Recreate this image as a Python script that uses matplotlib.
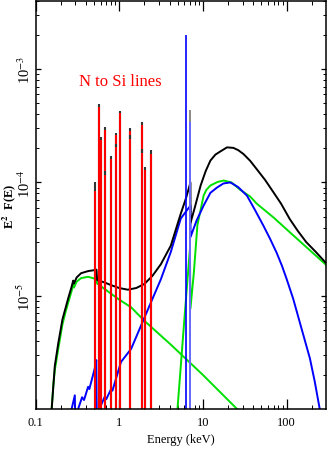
import numpy as np
import matplotlib
matplotlib.use('Agg')
from matplotlib import pyplot as plt
from matplotlib.ticker import FixedLocator, NullFormatter

plt.rcParams['font.family'] = ['Liberation Serif', 'DejaVu Serif']
plt.rcParams['mathtext.fontset'] = 'stix'

# total model (black)
black_e = [0.156, 0.17, 0.187, 0.21, 0.246, 0.27, 0.282, 0.288, 0.31, 0.35, 0.425, 0.50,
           0.535, 0.545, 0.56, 0.65, 0.80, 1.0, 1.27, 1.6, 2.0, 2.5, 3.15, 4.14, 5.44, 6.3,
           7.1, 7.12, 8.0, 9.4, 10.8, 12.3, 14.1, 16.2, 19.4, 23.1, 26.4, 30.6, 36.8, 44,
           55.5, 69.6, 85.9, 109, 136, 172, 223, 295]
black_f = [1e-6, 2.4e-6, 3.8e-6, 6.2e-6, 9.5e-6, 1.2e-5, 1.36e-5, 1.28e-5, 1.45e-5, 1.58e-5,
           1.65e-5, 1.68e-5, 1.7e-5, 1.38e-5, 1.36e-5, 1.32e-5, 1.24e-5, 1.17e-5, 1.13e-5,
           1.17e-5, 1.27e-5, 1.5e-5, 1.9e-5, 2.77e-5, 5.3e-5, 7.3e-5, 1.0e-4, 4.4e-5, 6.0e-5,
           9.4e-5, 1.26e-4, 1.56e-4, 1.76e-4, 1.88e-4, 2.04e-4, 2.02e-4, 1.93e-4, 1.78e-4,
           1.55e-4, 1.31e-4, 1.05e-4, 8.2e-5, 6.5e-5, 4.76e-5, 3.74e-5, 2.97e-5, 2.44e-5,
           1.95e-5]

# soft thermal component (green)
soft_e = [0.156, 0.163, 0.17, 0.187, 0.21, 0.23, 0.246, 0.27, 0.282, 0.288, 0.31, 0.35,
          0.425, 0.5, 0.535, 0.545, 0.7, 0.965, 1.39, 2.0, 4.14, 10.0, 25.6]
soft_f = [1e-6, 1.6e-6, 2.2e-6, 3.4e-6, 5.6e-6, 7.3e-6, 8.7e-6, 1.1e-5, 1.25e-5, 1.18e-5,
          1.33e-5, 1.43e-5, 1.47e-5, 1.42e-5, 1.38e-5, 1.28e-5, 1.12e-5, 9.4e-6, 7.9e-6,
          6.0e-6, 3.7e-6, 2.0e-6, 1.0e-6]

# hard component (green)
hard_e = [4.97, 6.0, 7.0, 7.1, 7.8, 8.6, 10.2, 11.0, 12.3, 15, 17.7, 22, 28, 36.8, 44, 70,
          109, 295]
hard_f = [1e-6, 6.1e-6, 2.6e-5, 7.7e-6, 1.6e-5, 4.2e-5, 7.65e-5, 8.6e-5, 9.4e-5, 1.01e-4,
          1.04e-4, 1.0e-4, 8.6e-5, 7.5e-5, 6.5e-5, 4.9e-5, 3.64e-5, 1.88e-5]

# absorbed power law / reflection (blue)
blue_e = [0.27, 0.295, 0.298, 0.323, 0.36, 0.38, 0.425, 0.44, 0.51, 0.533, 0.54, 0.58, 0.67,
          0.70, 0.80, 0.83, 1.05, 1.39, 2.0, 2.5, 3.15, 4.14, 5.44, 7.1, 7.12, 8.4, 10.2,
          12.3, 14.7, 17.6, 21.3, 26.4, 33.6, 42, 52.7, 63.5, 76, 88, 100, 120, 148, 190,
          217, 249]
blue_f = [1e-6, 1.32e-6, 8e-7, 1e-6, 1.27e-6, 1.2e-6, 1.57e-6, 1.5e-6, 2.28e-6, 2.7e-6, 8e-7,
          1e-6, 1.28e-6, 1.22e-6, 1.5e-6, 1.45e-6, 2.6e-6, 3.4e-6, 6.4e-6, 9.4e-6, 1.4e-5,
          2.44e-5, 4.8e-5, 6.25e-5, 3.3e-5, 4.6e-5, 6.25e-5, 8.1e-5, 9.0e-5, 9.8e-5, 1.0e-4,
          9.1e-5, 7.65e-5, 5.7e-5, 4.17e-5, 3.18e-5, 2.4e-5, 1.84e-5, 1.41e-5, 9.4e-6,
          5.4e-6, 2.8e-6, 1.75e-6, 1e-6]

# N to Si emission lines
line_e = [0.509, 0.574, 0.60, 0.67, 0.789, 0.921, 1.036, 1.36, 1.87, 2.03, 2.42]
line_top = [1.0e-4, 4.9e-4, 2.5e-4, 3.07e-4, 1.72e-4, 2.76e-4, 4.3e-4, 3.0e-4, 3.4e-4, 1.36e-4, 1.93e-4]
line_red = [8.4e-5, 4.6e-4, 2.35e-4, 2.9e-4, 1.6e-4, 2.6e-4, 4.1e-4, 2.85e-4, 3.2e-4, 1.28e-4, 1.8e-4]
sec_e = [0.67, 0.921, 1.36, 1.87]
sec_f = [1.26e-4, 2.2e-4, 2.6e-4, 1.97e-4]

# Fe lines
fe_e = [6.37, 7.1]
fe_top = [2.0e-3, 3.4e-4]
fe_tip = 4.4e-4

fig = plt.figure(figsize=(3.27, 4.6), dpi=100)
ax = fig.add_axes([0.1086, 0.1087, 0.888, 0.887])
ax.set_xscale('log')
ax.set_yscale('log')
ax.set_xlim(0.1, 295)
ax.set_ylim(1e-6, 4e-3)

ax.plot(soft_e, soft_f, color='#00e000', lw=1.4)
ax.plot(hard_e, hard_f, color='#00e000', lw=1.4)
ax.plot(blue_e, blue_f, color='#0000ff', lw=1.4)
ax.plot(black_e, black_f, color='black', lw=1.4)

ax.vlines(fe_e[1], 1e-6, fe_tip, color='#888888', lw=1.4)
ax.vlines(fe_e[1], 1e-6, fe_top[1], color='#6a6aff', lw=1.4)
ax.vlines(fe_e[0], 1e-6, fe_top[0], color='#0000ff', lw=1.2)

ax.vlines(line_e, 1e-6, line_top, color='#333333', lw=1.5)
ax.vlines(line_e, 1e-6, line_red, color='#ff0000', lw=1.5)
ax.vlines(sec_e, np.array(sec_f) * 0.93, sec_f, color='#333333', lw=1.5)

ax.text(1.02, 7.9e-4, 'N to Si lines', color='#ff0000', fontsize=12,
        ha='center', va='center')

ax.xaxis.set_major_locator(FixedLocator([0.1, 1, 10, 100]))
ax.set_xticklabels(['0.1', '1', '10', '100'])
ax.yaxis.set_major_locator(FixedLocator([1e-5, 1e-4, 1e-3]))
ax.set_yticklabels(['10$^{-5}$', '10$^{-4}$', '10$^{-3}$'])
ax.yaxis.set_minor_formatter(NullFormatter())
ax.xaxis.set_minor_formatter(NullFormatter())

ax.tick_params(which='both', direction='in', top=True, right=True, colors='black')
ax.tick_params(axis='x', which='major', length=7, width=0.9, labelsize=9, pad=5)
ax.tick_params(axis='x', which='minor', length=3.2, width=0.7)
ax.tick_params(axis='y', which='major', length=3.8, width=0.9, labelsize=10.5,
               pad=2, labelrotation=90)
ax.tick_params(axis='y', which='minor', length=2.2, width=0.7)
for lab in ax.get_yticklabels():
    lab.set_verticalalignment('center')

for s in ax.spines.values():
    s.set_linewidth(1.1)

ax.set_xlabel('Energy (keV)', fontsize=9, labelpad=4)
ax.set_ylabel('E$^{\\mathbf{2}}$  F(E)', fontsize=9, fontweight='bold')
ax.yaxis.set_label_coords(-0.06, 0.5)

fig.savefig('out.png', dpi=100)
